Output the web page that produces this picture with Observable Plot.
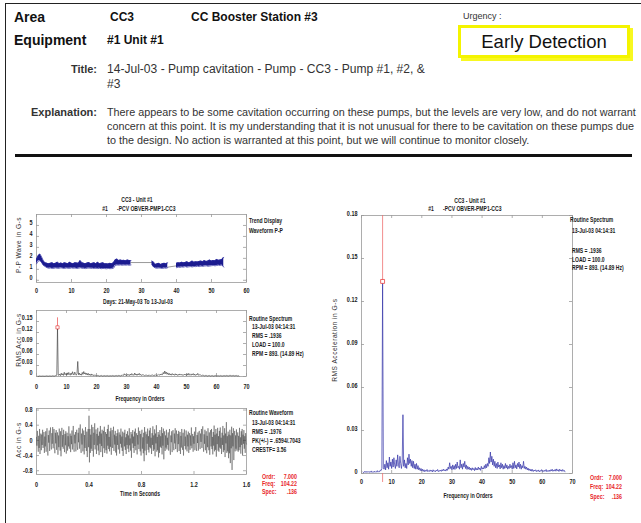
<!DOCTYPE html>
<html><head><meta charset="utf-8">
<script src="https://cdn.jsdelivr.net/npm/d3@7"></script>
<script src="https://cdn.jsdelivr.net/npm/@observablehq/plot@0.6"></script>
<style>
html,body{margin:0;padding:0;background:#fff;}
#page{position:relative;width:641px;height:523px;overflow:hidden;background:#fff;font-family:"Liberation Sans",Arial,sans-serif;color:#111;}
.abs{position:absolute;white-space:nowrap;line-height:1;transform:translateY(-50%);}
.ct{font-family:"Liberation Sans",Arial,sans-serif;font-size:7.2px;font-weight:bold;color:#1a1a1a;}
.red{color:#e8262a;font-size:7.6px;}
.yt{position:absolute;white-space:nowrap;line-height:1;transform:translate(-50%,-50%) rotate(-90deg);font-family:"Liberation Sans",Arial,sans-serif;font-size:6.6px;letter-spacing:0.5px;color:#333;}
</style></head><body>
<div id="page">
  <div style="position:absolute;left:5px;top:3px;width:700px;height:600px;border-left:1.5px solid #222;border-top:1.5px solid #222;"></div>
  <div class="abs" style="left:14px;top:17px;font-size:14px;font-weight:bold;">Area</div>
  <div class="abs" style="left:110px;top:17px;font-size:12px;font-weight:bold;">CC3</div>
  <div class="abs" style="left:191px;top:17px;font-size:12px;font-weight:bold;">CC Booster Station #3</div>
  <div class="abs" style="left:14px;top:40px;font-size:14px;font-weight:bold;">Equipment</div>
  <div class="abs" style="left:107px;top:40px;font-size:12px;font-weight:bold;">#1 Unit #1</div>
  <div class="abs" style="left:463px;top:16px;font-size:9px;color:#333;">Urgency :</div>
  <div style="position:absolute;left:458px;top:25px;width:166px;height:27px;border:3px solid #f4f400;box-shadow:3px 3px 0 #f8f820;display:flex;align-items:center;justify-content:center;font-size:18.5px;color:#111;">Early Detection</div>
  <div class="abs" style="left:0;width:97px;text-align:right;top:69px;font-size:11px;font-weight:bold;color:#333;">Title:</div>
  <div class="abs" id="titleLine" style="left:107px;top:69px;font-size:11px;color:#333;">14-Jul-03 - Pump cavitation - Pump - CC3 - Pump #1, #2, &amp;</div>
  <div class="abs" id="titleLine2" style="left:107px;top:84px;font-size:11px;color:#333;">#3</div>
  <div class="abs" style="left:0;width:97px;text-align:right;top:112px;font-size:11px;font-weight:bold;color:#333;">Explanation:</div>
  <div class="abs" id="ex1" style="left:107px;top:112px;font-size:10px;color:#333;">There appears to be some cavitation occurring on these pumps, but the levels are very low, and do not warrant</div>
  <div class="abs" id="ex2" style="left:107px;top:126px;font-size:10px;color:#333;">concern at this point. It is my understanding that it is not unusual for there to be cavitation on these pumps due</div>
  <div class="abs" id="ex3" style="left:107px;top:140px;font-size:10px;color:#333;">to the design. No action is warranted at this point, but we will continue to monitor closely.</div>
  <div style="position:absolute;left:15px;top:154px;width:617px;height:3px;background:#111;"></div>
</div>
<script>
// ---------------- DATA ----------------
// Trend display: [day, low P-P, high P-P] (G-s)
const trendSegA = [[0,1.5,1.9],[0.5,1.75,2.25],[1,1.8,2.4],[1.5,1.6,2.1],[2,1.35,1.75],[2.5,1.25,1.6],[3,1.15,1.55],[3.5,1.1,1.5],[4,1.12,1.55],[4.5,1.08,1.6],[5,1.1,1.5],[5.5,1.13,1.55],[6,1.09,1.65],[6.5,1.1,1.52],[7,1.14,1.58],[7.5,1.1,1.5],[8,1.08,1.6],[8.5,1.12,1.55],[9,1.1,1.52],[9.5,1.09,1.65],[10,1.13,1.55],[10.5,1.1,1.5],[11,1.12,1.6],[11.5,1.08,1.58],[12,1.1,1.55],[12.5,1.14,1.8],[13,1.1,1.6],[13.5,1.09,1.55],[14,1.07,1.5],[14.5,1.1,1.58],[15,1.12,1.62],[15.5,1.09,1.52],[16,1.1,1.55],[16.5,1.08,1.6],[17,1.1,1.5],[17.5,1.07,1.65],[18,1.09,1.52],[18.5,1.06,1.55],[19,1.08,1.6],[19.5,1.07,1.5],[20,1.05,1.52],[20.5,1.08,1.48],[21,1.06,1.55],[21.5,1.07,1.5],[22,1.1,1.6],[22.5,1.35,1.85],[23,1.4,1.95],[23.5,1.38,1.8],[24,1.4,1.85],[24.5,1.37,1.8],[25,1.4,1.82],[25.5,1.38,1.78],[26,1.4,1.85],[26.5,1.37,1.8],[27,1.4,1.8]];
const trendSegB = [[33,1.4,1.75],[33.5,1.2,1.65],[34,1.12,1.45],[34.5,1.1,1.5],[35,1.13,1.55],[35.5,1.1,1.45],[36,1.08,1.5],[36.5,1.12,1.55],[37,1.1,1.5],[37.5,1.15,1.6]];
const trendSegC = [[40,1.15,1.55],[40.5,1.2,1.6],[41,1.18,1.58],[41.5,1.22,1.65],[42,1.2,1.6],[42.5,1.25,1.62],[43,1.2,1.7],[43.5,1.23,1.6],[44,1.25,1.65],[44.5,1.22,1.75],[45,1.26,1.65],[45.5,1.25,1.7],[46,1.28,1.68],[46.5,1.25,1.72],[47,1.3,1.75],[47.5,1.27,1.7],[48,1.3,1.8],[48.5,1.32,1.72],[49,1.28,1.75],[49.5,1.3,1.85],[50,1.33,1.75],[50.5,1.35,1.8],[51,1.32,1.78],[51.5,1.35,1.9],[52,1.38,1.82],[52.5,1.35,1.85],[53,1.4,1.9],[53.5,1.2,2.1]];
const trendGapLines = [[27,1.62,"g1"],[33,1.62,"g1"],[37.5,1.2,"g2"],[40,1.32,"g2"]];

// Spectrum (RMS acceleration, milli-G), bins from 0.5 orders every 0.25 orders
const specStartOrder = 0.5, specStepOrder = 0.25;
const specMilliG = [
  1.0,0.6,1.4,0.8,1.6,0.7,1.2,0.9,
  1.5,0.6,1.1,1.8,0.7,1.3,0.9,1.6,
  0.8,1.4,1.0,2.0,0.9,1.5,1.2,2.4,
  2.0,3.5,134,4.0,3.0,6.5,2.5,9.0,
  4.0,7.5,3.0,11.5,5.0,8.0,3.5,10.0,
  4.5,11.0,6.0,3.5,9.5,5.0,13.0,6.5,
  4.0,12.0,7.0,3.5,8.0,41.0,5.0,9.5,
  4.0,7.0,3.5,11.0,6.0,13.5,7.0,10.0,
  5.0,9.0,4.0,8.5,3.5,6.5,3.0,7.0,
  3.0,5.5,2.5,4.0,2.0,3.5,1.8,3.0,
  1.5,2.6,1.2,2.2,1.6,2.8,1.3,2.0,
  1.4,2.5,1.6,2.2,1.1,2.6,1.5,1.9,
  1.2,2.3,1.7,2.8,1.3,2.1,1.6,2.4,
  1.5,2.7,1.8,3.0,2.0,2.6,1.7,3.2,
  2.2,4.5,3.0,7.5,3.5,5.0,2.5,6.0,
  3.0,5.5,2.8,6.5,3.5,8.0,4.0,5.0,
  3.0,9.5,4.0,6.5,3.0,7.0,4.5,8.5,
  3.5,6.0,2.8,5.0,3.0,4.5,2.5,3.8,
  2.2,4.0,2.6,3.5,2.0,4.2,2.4,3.6,
  2.5,4.5,2.8,3.8,2.2,5.0,3.0,4.0,
  3.2,5.5,3.5,6.5,4.0,7.0,5.0,11.0,
  7.0,15.0,8.0,12.0,6.0,10.0,5.0,8.5,
  4.0,7.0,3.5,8.0,4.5,6.0,3.2,7.5,
  4.0,6.5,3.0,5.5,3.5,7.0,3.8,6.0,
  3.0,5.0,3.5,6.5,4.0,5.5,3.0,7.5,
  3.5,8.5,4.0,6.0,3.2,7.0,4.5,8.0,
  3.5,6.5,3.0,5.5,4.0,8.5,3.5,5.0,
  3.0,4.5,2.5,3.8,2.2,3.2,1.8,3.0,
  1.6,2.8,1.4,2.4,1.8,2.6,1.3,2.2,
  1.5,2.5,1.2,2.0,1.6,2.7,1.4,2.1,
  1.3,2.2,1.6,2.8,1.2,2.0,1.5,2.4,
  1.4,2.6,1.8,3.0,1.5,2.3,1.7,2.9,
  1.6,3.2,2.0,2.6,1.4,3.0,1.8,2.5,
  1.5,2.8,1.6,2.2,1.2
];
const cursorOrder = 7.0;
const cursorReadout = [["Ordr:", "7.000"], ["Freq:", "104.22"], ["Spec:", ".136"]];

// Waveform (centi-G), sampled at 300 samples/s over 1.6 s
const waveSampleRate = 300;
const waveCentiG = [
  8,-14,25,-6,-30,12,-20,30,-36,4,18,-26,15,-12,28,-20,-4,22,-33,10,
  -16,24,-30,9,32,-18,-40,14,-6,26,-28,8,34,-14,-24,19,-9,35,-21,2,
  30,-16,-34,20,-8,27,-25,10,21,-38,13,-18,31,-10,-27,24,-42,11,33,-17,
  14,-22,28,-5,-31,17,-13,24,-35,7,20,-27,11,-16,37,-22,-3,18,-31,12,
  -10,26,-24,5,38,-19,-30,15,-8,22,-29,13,28,-15,-25,20,-5,33,-22,4,
  42,-17,-33,18,-11,31,-29,7,26,-37,14,-20,35,-13,-28,23,-44,10,30,-18,
  65,-58,30,-33,15,-22,41,-28,10,35,-43,20,-12,45,-24,6,29,-36,17,-13,
  33,-27,12,-39,23,-9,38,-31,18,-15,28,-44,13,25,-21,36,-33,8,22,-26,
  17,-35,30,-14,41,-23,9,-29,24,-17,33,-38,14,27,-20,7,36,-28,15,-11,
  25,-32,11,-40,19,-12,29,-24,6,21,-35,15,-9,31,-19,10,-28,23,-41,5,
  20,-16,28,-25,8,-36,17,-12,24,-22,13,-31,32,-13,5,-27,22,-46,16,-8,
  27,-20,10,-33,23,-15,31,-26,9,19,-37,14,-11,34,-23,3,25,-29,17,-40,
  12,28,-22,8,-34,20,-55,35,-27,5,23,-39,16,-9,31,-25,11,-32,26,-18,
  33,-21,7,-36,19,-12,37,-28,13,-24,29,-42,18,-8,40,-30,9,-26,22,-45,
  15,-33,27,-17,11,-20,35,-37,19,-14,31,-50,8,24,-28,13,-19,28,-24,7,
  -12,21,-27,10,30,-22,-38,13,-5,24,-31,9,27,-17,-26,18,-8,32,-23,4,
  26,-18,-31,17,-10,25,-28,6,22,-36,12,-19,30,-11,-25,20,-40,9,29,-15,
  10,-24,26,-7,-29,15,-16,23,-33,6,19,-25,13,-14,34,-21,-6,17,-30,11,
  -9,23,-26,4,35,-18,-28,14,-7,21,-27,12,25,-13,-23,18,-4,30,-20,3,
  37,-15,-30,16,-9,28,-26,8,24,-34,12,-18,32,-12,-26,21,-38,9,27,-16,
  30,-23,9,-37,22,-14,39,-29,15,-25,30,-43,18,-10,33,-27,11,-30,25,-19,
  34,-22,7,-36,20,-12,38,-31,13,-26,32,-44,18,-8,48,-33,11,-29,23,-47,
  15,-34,28,-60,13,-21,36,-78,19,-16,32,-52,10,25,-29,13,-22,29,-27,7,
  21,-30,12,-26,33,-18,8,-35,24,-12,30,-40,15,-9,27,-22,11,-33,19,-6,
  -10
];

// Tick values
const trendXTicks = [0,10,20,30,40,50,60];
const trendYTicks = [0,1,2,3,4,5];
const specXTicks = [0,10,20,30,40,50,60,70];
const specSmallYTicks = [0,0.03,0.06,0.09,0.12,0.15];
const specBigYTicks = [0,0.03,0.06,0.09,0.12,0.15,0.18];
const waveXTicks = [0,0.4,0.8,1.2,1.6];
const waveYTicks = [-0.8,-0.4,0,0.4,0.8];

// ---------------- BUILD TABLES ----------------
const trendRows = [
  ...trendSegA.map(([day, lo, hi]) => ({day, lo, hi, seg: "A"})),
  ...trendSegB.map(([day, lo, hi]) => ({day, lo, hi, seg: "B"})),
  ...trendSegC.map(([day, lo, hi]) => ({day, lo, hi, seg: "C"}))
];
const gapRows = trendGapLines.map(([day, v, seg]) => ({day, v, seg}));
const specRows = specMilliG.map((m, i) => ({order: specStartOrder + i * specStepOrder, amp: m / 1000}));
const waveRows = waveCentiG.map((c, i) => ({t: i / waveSampleRate, acc: c / 100}));
const cursorAmp = specRows.find(d => Math.abs(d.order - cursorOrder) < 1e-9).amp;

// ---------------- HELPERS ----------------
const page = document.getElementById("page");
const navy = "#1b1b8f";
const frameGray = "#9a9a9a";
const chartFont = '"Liberation Sans",Arial,sans-serif';
const NARROW = 0.7;

function boxMarks(xTicks, yTicks, pw, ph) {
  const L = 3, c = frameGray;
  return [
    Plot.frame({stroke: c, strokeWidth: 0.8}),
    Plot.ruleX(xTicks, {x: d => d, insetTop: ph - L, stroke: c, strokeWidth: 0.8}),
    Plot.ruleX(xTicks, {x: d => d, insetBottom: ph - L, stroke: c, strokeWidth: 0.8}),
    Plot.ruleY(yTicks, {y: d => d, insetRight: pw - L, stroke: c, strokeWidth: 0.8}),
    Plot.ruleY(yTicks, {y: d => d, insetLeft: pw - L, stroke: c, strokeWidth: 0.8})
  ];
}

function chart(o) {
  const pw = o.width - o.ml - o.mr, ph = o.height - o.mt - o.mb;
  const svg = Plot.plot({
    width: o.width, height: o.height,
    marginLeft: o.ml, marginRight: o.mr, marginTop: o.mt, marginBottom: o.mb,
    x: {domain: o.xDomain, label: null},
    y: {domain: o.yDomain, label: null},
    style: {background: "transparent", fontFamily: chartFont, fontSize: "7px", fontWeight: "bold", color: "#1a1a1a", overflow: "visible"},
    marks: [
      ...boxMarks(o.xTicks, o.yTicks, pw, ph),
      ...o.marks(pw, ph),
      Plot.axisX(o.xTicks, {tickSize: 0, tickPadding: o.xPad, tickFormat: o.xFmt, label: null, fill: "#1a1a1a"}),
      Plot.axisY(o.yTicks, {tickSize: 0, tickPadding: 4, dy: o.yDy, tickFormat: o.yFmt, label: null, fill: "#1a1a1a"})
    ]
  });
  svg.style.position = "absolute";
  svg.style.left = o.left + "px";
  svg.style.top = o.top + "px";
  page.appendChild(svg);
  // condense tick label glyphs (narrow scanned typeface)
  svg.querySelectorAll("text").forEach(t => {
    const L = t.getComputedTextLength();
    if (L > 0) { t.setAttribute("textLength", (L * 0.78).toFixed(2)); t.setAttribute("lengthAdjust", "spacingAndGlyphs"); }
  });
}

function txt(s, x, y, cls = "ct", tf = `translateY(-50%) scaleX(${NARROW})`, origin = "left center") {
  const d = document.createElement("div");
  d.className = "abs " + cls;
  d.style.left = x + "px"; d.style.top = y + "px";
  d.style.transform = tf; d.style.transformOrigin = origin;
  d.textContent = s;
  page.appendChild(d);
  return d;
}
const ctxt = (s, cx, y, cls = "ct") => txt(s, cx, y, cls, `translate(-50%,-50%) scaleX(${NARROW})`, "center center");
const rtxt = (s, rx, y, cls = "ct") => txt(s, rx, y, cls, `translate(-100%,-50%) scaleX(${NARROW})`, "right center");
function ytitle(s, x, y) {
  const d = document.createElement("div");
  d.className = "yt";
  d.style.left = x + "px"; d.style.top = y + "px";
  d.textContent = s;
  page.appendChild(d);
}
const fmtSpec = d => d === 0 ? "0" : d.toFixed(2);

// ---------------- CHART 1: TREND ----------------
chart({
  left: 0, top: 206, width: 256, height: 92, ml: 36, mr: 10, mt: 8, mb: 16,
  xDomain: [0, 60], yDomain: [-0.2, 6], xTicks: trendXTicks, yTicks: trendYTicks,
  xFmt: d => String(d), yFmt: d => String(d), xPad: 6, yDy: -3,
  marks: () => [
    Plot.line(gapRows, {x: "day", y: "v", z: "seg", stroke: "#555", strokeWidth: 0.6}),
    Plot.areaY(trendRows, {x: "day", y1: "lo", y2: "hi", z: "seg", fill: navy}),
    Plot.line(trendRows, {x: "day", y: "hi", z: "seg", stroke: "#2a2aa0", strokeWidth: 0.7}),
    Plot.line(trendRows, {x: "day", y: "lo", z: "seg", stroke: "#2a2aa0", strokeWidth: 0.7})
  ]
});

// ---------------- CHART 2: SMALL SPECTRUM ----------------
chart({
  left: 0, top: 302, width: 256, height: 90, ml: 36, mr: 10, mt: 8, mb: 16,
  xDomain: [0, 70], yDomain: [0, 0.18], xTicks: specXTicks, yTicks: specSmallYTicks,
  xFmt: d => String(d), yFmt: fmtSpec, xPad: 8, yDy: -4,
  marks: () => [
    Plot.ruleX([cursorOrder], {x: d => d, y1: cursorAmp - 0.008, y2: 0.16, stroke: "#ee6060", strokeWidth: 0.8}),
    Plot.lineY(specRows, {x: "order", y: "amp", stroke: "#333", strokeWidth: 0.6}),
    Plot.dot([cursorOrder], {x: d => d, y: () => cursorAmp, symbol: "square", r: 1.8, stroke: "#e84040", strokeWidth: 0.7, fill: "white"})
  ]
});

// ---------------- CHART 3: WAVEFORM ----------------
chart({
  left: 0, top: 400, width: 256, height: 90, ml: 36, mr: 10, mt: 8, mb: 16,
  xDomain: [0, 1.6], yDomain: [-0.9, 0.84], xTicks: waveXTicks, yTicks: waveYTicks,
  xFmt: d => d === 0 ? "0" : String(d), yFmt: d => String(d), xPad: 8, yDy: 0,
  marks: () => [
    Plot.lineY(waveRows, {x: "t", y: "acc", stroke: "#333", strokeWidth: 0.5, strokeOpacity: 0.85})
  ]
});

// ---------------- CHART 4: BIG SPECTRUM ----------------
chart({
  left: 325, top: 207, width: 257, height: 282, ml: 36, mr: 10, mt: 8, mb: 16,
  xDomain: [0, 70], yDomain: [0, 0.18], xTicks: specXTicks, yTicks: specBigYTicks,
  xFmt: d => String(d), yFmt: fmtSpec, xPad: 6, yDy: -2,
  marks: (pw, ph) => [
    Plot.ruleX([cursorOrder], {x: d => d, y1: cursorAmp, y2: 0.18, stroke: "#ee7070", strokeWidth: 0.8}),
    Plot.ruleX([cursorOrder], {x: d => d, insetTop: ph, insetBottom: -9, stroke: "#ee7070", strokeWidth: 0.8}),
    Plot.lineY(specRows, {x: "order", y: "amp", stroke: "#3232a8", strokeWidth: 0.7}),
    Plot.dot([cursorOrder], {x: d => d, y: () => cursorAmp, symbol: "square", r: 2.2, stroke: "#e84040", strokeWidth: 0.8, fill: "white"})
  ]
});

// ---------------- ANNOTATIONS ----------------
// chart 1
ctxt("CC3  - Unit #1", 137, 200);
ctxt("#1", 105, 209.3);
txt("-PCV  OBVER-PMP1-CC3", 116.7, 209.3);
txt("Trend Display", 249, 221);
txt("Waveform P-P", 249, 231);
ytitle("P-P Wave in G-s", 19, 245);
ctxt("Days:  21-May-03   To   13-Jul-03", 138, 301.5);
// chart 2
txt("Routine Spectrum", 249, 318.5);
txt("13-Jul-03  04:14:31", 251.5, 327);
txt("RMS =  .1936", 251.5, 335.5);
txt("LOAD = 100.0", 251.5, 344.5);
txt("RPM = 893. (14.89 Hz)", 251.5, 354);
ytitle("RMS Acc in G-s", 18.5, 340);
ctxt("Frequency in Orders", 140, 399);
// chart 3
txt("Routine Waveform", 249, 413.3);
txt("13-Jul-03  04:14:31", 251.5, 423);
txt("RMS =  .1976", 251.5, 432);
txt("PK(+/-) = .6594/.7043", 251.5, 441);
txt("CRESTF= 3.56", 251.5, 449.7);
ytitle("Acc in G-s", 18.5, 440);
ctxt("Time in Seconds", 140, 494);
cursorReadout.forEach(([k, v], i) => {
  txt(k, 261.7, [476.7, 484.3, 492.3][i], "ct red");
  rtxt(v, 296.7, [476.7, 484.3, 492.3][i], "ct red");
});
// chart 4
ctxt("CC3  - Unit #1", 470, 200.7);
ctxt("#1", 431, 209.3);
txt("-PCV  OBVER-PMP1-CC3", 443, 209.3);
txt("Routine Spectrum", 570, 220);
txt("13-Jul-03  04:14:31", 572.3, 230.8);
txt("RMS =  .1936", 572.3, 250.8);
txt("LOAD = 100.0", 572.3, 259.6);
txt("RPM = 893. (14.89 Hz)", 572.3, 268.3);
ytitle("RMS Acceleration in G-s", 335, 340);
ctxt("Frequency in Orders", 468, 496);
cursorReadout.forEach(([k, v], i) => {
  txt(k, 590, [477.7, 486.7, 497.3][i], "ct red");
  rtxt(v, 622, [477.7, 486.7, 497.3][i], "ct red");
});

// fit header body text widths
function fitWidth(el, target) {
  const w = el.getBoundingClientRect().width;
  const fs = parseFloat(getComputedStyle(el).fontSize);
  return fs * target / w;
}
const exFs = fitWidth(document.getElementById("ex1"), 529);
["ex1","ex2","ex3"].forEach(id => document.getElementById(id).style.fontSize = exFs + "px");
const tFs = fitWidth(document.getElementById("titleLine"), 318);
["titleLine","titleLine2"].forEach(id => document.getElementById(id).style.fontSize = tFs + "px");
</script>
</body></html>
